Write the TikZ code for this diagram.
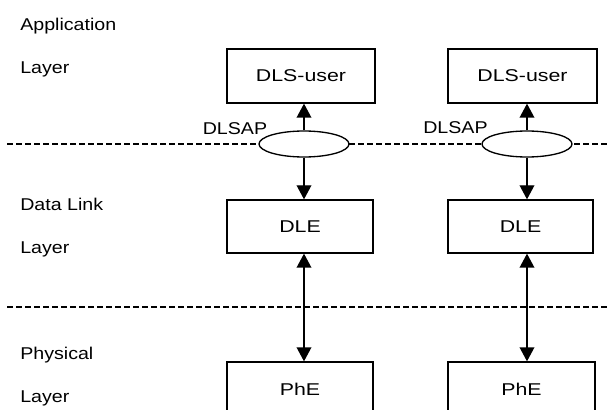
\documentclass[tikz,border=0pt]{standalone}
\usepackage{fontspec}
\setmainfont{Liberation Sans}
\usetikzlibrary{arrows.meta,shapes.geometric}
\tikzset{
  lbl/.style={inner sep=0pt, font=\fontsize{12.8}{15}\selectfont},
  boxnode/.style={draw, line width=1pt, inner sep=0pt, font=\fontsize{12.8}{15}\selectfont},
  sap/.style={draw, ellipse, fill=white, line width=1pt, inner sep=0pt, minimum width=90*0.75pt, minimum height=26*0.75pt},
  tip/.style={},
  arr/.style={line width=1pt, {Triangle[length=10.5pt,width=11pt]}-{Triangle[length=10.5pt,width=11pt]}},
  arrup/.style={line width=1pt, -{Triangle[length=10.5pt,width=11pt]}},
  sepline/.style={line width=0.85pt, dash pattern=on 4.5pt off 2.25pt}
}
\newcommand{\wl}[1]{\scalebox{1.15}[1]{#1}}
\newcommand{\wb}[1]{\scalebox{1.25}[1]{#1}}
\begin{document}
\begin{tikzpicture}[x=0.75pt,y=-0.75pt]
\useasboundingbox (0,0) rectangle (608,410);
\clip (0,0) rectangle (608,410);
\fill[white] (0,0) rectangle (608,410);
% separator lines
\coordinate (s1a) at (7,144);
\coordinate (s1b) at (608,144);
\coordinate (s2a) at (7,307);
\coordinate (s2b) at (608,307);
\draw[sepline] (s1a) -- (s1b);
\draw[sepline] (s2a) -- (s2b);
% layer labels
\node[lbl, anchor=base west] (l1) at (20,31) {\wl{Application}};
\node[lbl, anchor=base west] (l2) at (20,73.5) {\wl{Layer}};
\node[lbl, anchor=base west] (l3) at (20,210) {\wl{Data Link}};
\node[lbl, anchor=base west] (l4) at (20,253.5) {\wl{Layer}};
\node[lbl, anchor=base west] (l5) at (20,359) {\wl{Physical}};
\node[lbl, anchor=base west] (l6) at (20,402.5) {\wl{Layer}};
% boxes
\node[boxnode, minimum width=148*0.75pt, minimum height=54*0.75pt] (u1) at (301,76) {\wb{DLS-user}};
\node[boxnode, minimum width=149*0.75pt, minimum height=54*0.75pt] (u2) at (522.5,76) {\wb{DLS-user}};
\node[boxnode, minimum width=146*0.75pt, minimum height=53*0.75pt] (d1) at (300,226.5) {\wb{DLE}};
\node[boxnode, minimum width=145*0.75pt, minimum height=53*0.75pt] (d2) at (520.5,226.5) {\wb{DLE}};
\node[boxnode, minimum width=146*0.75pt, minimum height=54*0.75pt] (p1) at (300,389) {\wb{PhE}};
\node[boxnode, minimum width=147*0.75pt, minimum height=54*0.75pt] (p2) at (521.5,389) {\wb{PhE}};
% service access points
\node[sap] (e1) at (304,144) {};
\node[sap] (e2) at (527,144) {};
\node[lbl, anchor=base west] (t1) at (202.5,134.5) {\wl{DLSAP}};
\node[lbl, anchor=base west] (t2) at (423,133.5) {\wl{DLSAP}};
% arrows
\draw[arrup] (e1.north) -- (e1.north |- u1.south);
\draw[arrup] (e2.north) -- (e2.north |- u2.south);
\draw[arrup] (e1.south) -- (e1.south |- d1.north);
\draw[arrup] (e2.south) -- (e2.south |- d2.north);
\draw[arr] (e1.south |- d1.south) -- (e1.south |- p1.north);
\draw[arr] (e2.south |- d2.south) -- (e2.south |- p2.north);
\end{tikzpicture}
\end{document}
